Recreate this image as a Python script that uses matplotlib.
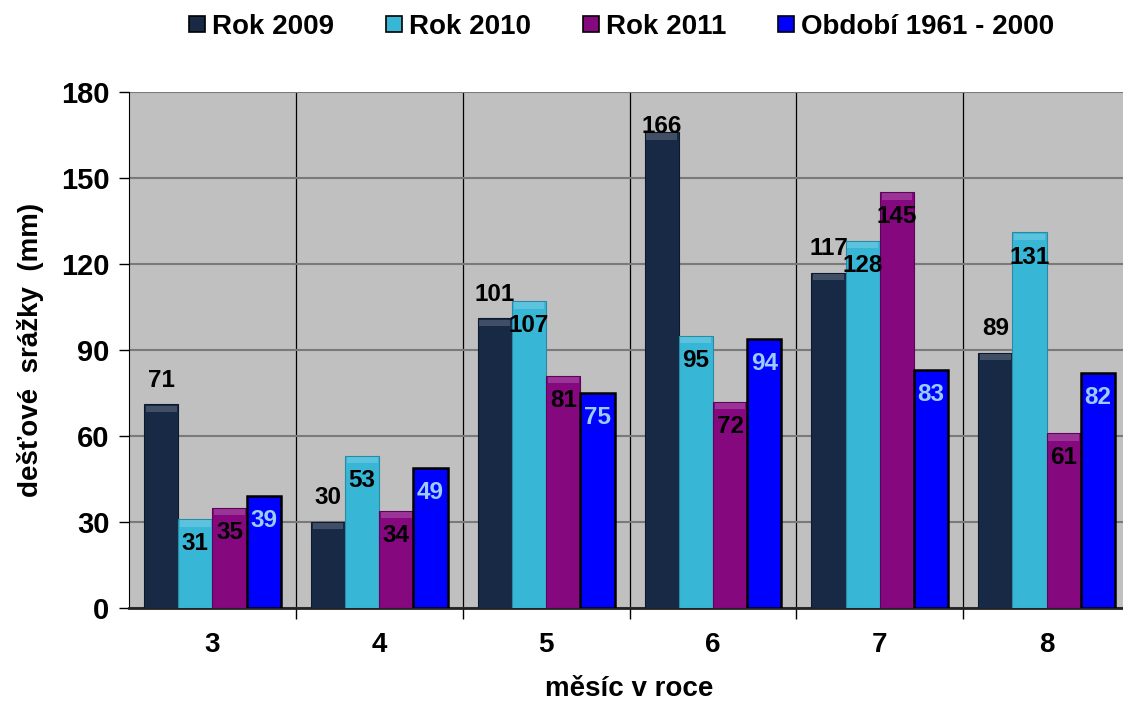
import numpy as np
import matplotlib
matplotlib.use('Agg')
import matplotlib.pyplot as plt
from matplotlib.lines import Line2D

plt.rcParams['font.family'] = ['Liberation Sans', 'DejaVu Sans']
plt.rcParams['font.weight'] = 'bold'

months = ['3', '4', '5', '6', '7', '8']
series_names = ['Rok 2009', 'Rok 2010', 'Rok 2011', 'Období 1961 - 2000']
rok2009 = [71, 30, 101, 166, 117, 89]
rok2010 = [31, 53, 107, 95, 128, 131]
rok2011 = [35, 34, 81, 72, 145, 61]
obdobi = [39, 49, 75, 94, 83, 82]

colors = ['#172945', '#38B6D6', '#85087F', '#0000FF']
edges = ['#0d1a2e', '#2a8aa3', '#5c0558', '#000000']
label_colors = ['black', 'black', 'black', '#99CCFF']

fig = plt.figure(figsize=(11.23, 7.01), dpi=100)
ax = fig.add_axes([0.1149, 0.1327, 0.8914, 0.7361])
ax.set_facecolor('#C0C0C0')

x = np.arange(len(months))
w = 0.205
data = [rok2009, rok2010, rok2011, obdobi]
for i, vals in enumerate(data):
	xs = x + (i - 1.5) * w
	ax.bar(xs, vals, w, color=colors[i], edgecolor=edges[i],
		linewidth=1.8 if i == 3 else 0.8, zorder=3)
	# lighter bevel strip at the top of the shaded bars
	if i < 3:
		ax.bar(xs, [2.2] * len(vals), w * 0.9, bottom=np.array(vals) - 2.6,
			color='white', alpha=0.18, linewidth=0, zorder=4)
	for xx, v in zip(xs, vals):
		if i == 0:
			yy = min(v + 8.4, 168.)  # above the bar, kept inside the plot
		else:
			yy = v - 8.6  # inside, just under the top
		ax.text(xx, yy, str(v), ha='center', va='center', fontsize=17.5,
			fontweight='bold', color=label_colors[i], zorder=5)

ax.set_ylim(0, 180)
ax.set_xlim(-0.5, len(months) - 0.5)
ax.set_yticks(np.arange(0, 181, 30))
ax.yaxis.grid(True, color='#7a7a7a', linewidth=1.5, zorder=0)
ax.set_xticks(x)
ax.set_xticklabels(months)
ax.set_xticks(np.arange(0.5, len(months) - 0.5, 1), minor=True)
ax.xaxis.grid(True, which='minor', color='black', linewidth=0.9, zorder=0)
ax.tick_params(axis='x', which='major', length=0, pad=17, labelsize=20)
ax.tick_params(axis='x', which='minor', length=8, width=1)
ax.tick_params(axis='y', length=7, width=1, pad=7, labelsize=21)
for lab in ax.get_xticklabels() + ax.get_yticklabels():
	lab.set_fontweight('bold')

ax.spines['top'].set_visible(False)
ax.spines['right'].set_visible(False)
ax.spines['left'].set_color('black')
ax.spines['bottom'].set_color('#222222')
ax.spines['bottom'].set_linewidth(2)

ax.set_xlabel('měsíc v roce', fontsize=20, fontweight='bold', labelpad=13)
ax.set_ylabel('dešťové  srážky  (mm)', fontsize=20, fontweight='bold', labelpad=12)

handles = [Line2D([], [], marker='s', linestyle='', markersize=11,
	markerfacecolor=colors[i], markeredgecolor='black', markeredgewidth=1.2)
	for i in range(4)]
fig.legend(handles, series_names, loc='center', bbox_to_anchor=(0.552, 0.962),
	ncol=4, frameon=False, prop={'size': 20, 'weight': 'bold'},
	handletextpad=0.15, columnspacing=1.75, handlelength=0.8)

fig.savefig('out.png', dpi=100)
